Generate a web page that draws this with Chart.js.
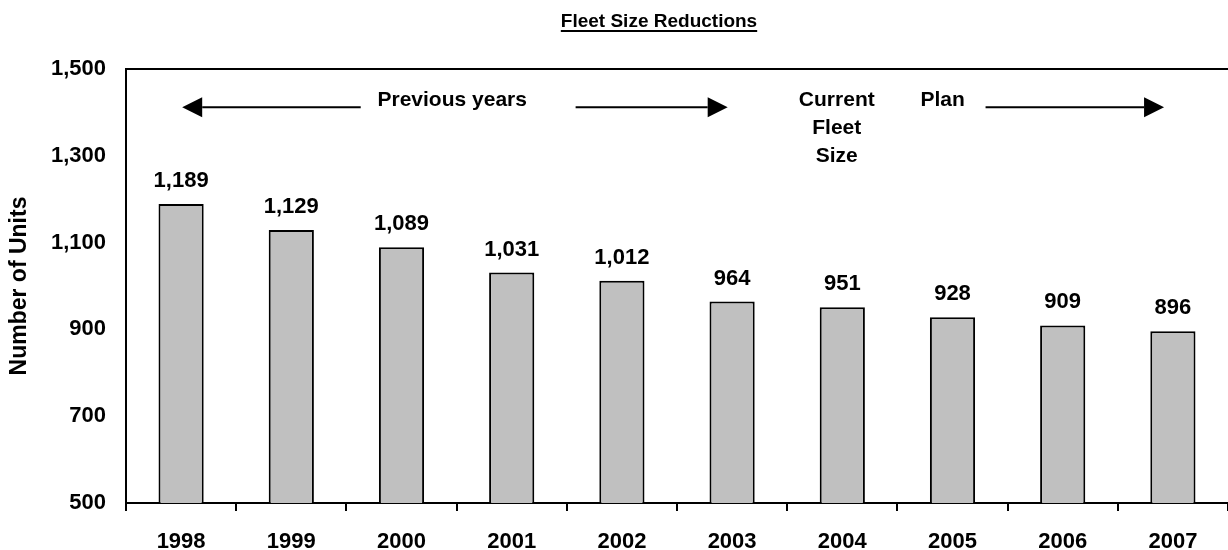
<!DOCTYPE html>
<html>
<head>
<meta charset="utf-8">
<script src="https://cdn.jsdelivr.net/npm/chart.js@4/dist/chart.umd.min.js"></script>
<style>
  html, body { margin: 0; padding: 0; background: #fff; }
  #wrap { width: 1228px; height: 550px; position: relative; }
</style>
</head>
<body>
<div id="wrap"><canvas id="fleetChart"></canvas></div>
<script>
// Dados do gráfico
const years = ['1998', '1999', '2000', '2001', '2002', '2003', '2004', '2005', '2006', '2007'];
const fleetUnits = [1189, 1129, 1089, 1031, 1012, 964, 951, 928, 909, 896];
const yTicks = [500, 700, 900, 1100, 1300, 1500];

const FONT = '"Liberation Sans", Arial, sans-serif';

function fmt(v) {
    return Number(v).toLocaleString('en-US');
}

// Título sublinhado
const titlePlugin = {
    id: 'underlinedTitle',
    afterDraw(chart) {
        const c = chart.ctx;
        const text = 'Fleet Size Reductions';
        c.save();
        c.font = 'bold 19px ' + FONT;
        c.fillStyle = '#000';
        c.textAlign = 'center';
        c.textBaseline = 'alphabetic';
        const cx = 659, by = 27;
        c.fillText(text, cx, by);
        const w = c.measureText(text).width;
        c.fillRect(cx - w / 2, by + 3, w, 2);
        c.restore();
    }
};

// Rótulos de valor acima das barras
const valueLabels = {
    id: 'valueLabels',
    afterDatasetsDraw(chart) {
        const c = chart.ctx;
        const meta = chart.getDatasetMeta(0);
        c.save();
        c.font = 'bold 22px ' + FONT;
        c.fillStyle = '#000';
        c.textAlign = 'center';
        c.textBaseline = 'alphabetic';
        meta.data.forEach((bar, i) => {
            c.fillText(fmt(fleetUnits[i]), bar.x, bar.y - 17);
        });
        c.restore();
    }
};

// Setas e textos de anotação (posições em índice de categoria / valor)
const annotations = {
    id: 'annotations',
    afterDraw(chart) {
        const c = chart.ctx;
        const xs = chart.scales.x, ys = chart.scales.y;
        const X = v => xs.getPixelForValue(v);
        const ay = ys.getPixelForValue(1412);

        function arrow(from, to) {
            const x1 = X(from), x2 = X(to);
            const dir = Math.sign(x2 - x1);
            const head = 20, half = 10;
            c.beginPath();
            c.moveTo(x1, ay);
            c.lineTo(x2 - dir * head, ay);
            c.stroke();
            c.beginPath();
            c.moveTo(x2, ay);
            c.lineTo(x2 - dir * head, ay - half);
            c.lineTo(x2 - dir * head, ay + half);
            c.closePath();
            c.fill();
        }

        c.save();
        c.strokeStyle = '#000';
        c.fillStyle = '#000';
        c.lineWidth = 2;
        arrow(1.63, 0.01);
        arrow(3.58, 4.96);
        arrow(7.30, 8.92);

        c.font = 'bold 21px ' + FONT;
        c.textAlign = 'center';
        c.textBaseline = 'middle';
        c.fillText('Previous years', X(2.46), ay - 7);
        c.fillText('Current', X(5.95), ay - 7);
        c.fillText('Fleet', X(5.95), ay + 21);
        c.fillText('Size', X(5.95), ay + 49);
        c.fillText('Plan', X(6.91), ay - 7);
        c.restore();
    }
};

const ctx = document.getElementById('fleetChart');
new Chart(ctx, {
    type: 'bar',
    data: {
        labels: years,
        datasets: [{
            data: fleetUnits,
            backgroundColor: '#C0C0C0',
            borderColor: '#000',
            borderWidth: 2,
            borderSkipped: 'bottom',
            barPercentage: 0.41,
            categoryPercentage: 1
        }]
    },
    options: {
        responsive: true,
        maintainAspectRatio: false,
        animation: false,
        layout: { padding: { top: 69, right: 0, bottom: 0, left: 0 } },
        plugins: {
            legend: { display: false },
            tooltip: { enabled: false }
        },
        scales: {
            x: {
                offset: true,
                afterFit(scale) {
                    scale.height = 47;
                },
                grid: {
                    offset: true,
                    drawOnChartArea: false,
                    drawTicks: true,
                    tickLength: 8,
                    color: '#000',
                    lineWidth: 2
                },
                border: { display: true, color: '#000', width: 2 },
                ticks: {
                    color: '#000',
                    padding: 20,
                    font: { family: FONT, size: 22, weight: 'bold', lineHeight: 1 }
                }
            },
            y: {
                min: 500,
                max: 1500,
                afterBuildTicks(scale) {
                    scale.ticks = yTicks.map(v => ({ value: v }));
                },
                afterFit(scale) {
                    scale.width = 126;
                },
                grid: {
                    drawTicks: false,
                    color: c => (c.tick && c.tick.value === 1500 ? '#000' : 'rgba(0,0,0,0)'),
                    lineWidth: 2
                },
                border: { display: true, color: '#000', width: 2 },
                ticks: {
                    color: '#000',
                    padding: 20,
                    font: { family: FONT, size: 22, weight: 'bold' },
                    callback: v => fmt(v)
                },
                title: {
                    display: true,
                    text: 'Number of Units',
                    color: '#000',
                    padding: { top: 6, bottom: 0 },
                    font: { family: FONT, size: 23, weight: 'bold' }
                }
            }
        }
    },
    plugins: [titlePlugin, valueLabels, annotations]
});
</script>
</body>
</html>
